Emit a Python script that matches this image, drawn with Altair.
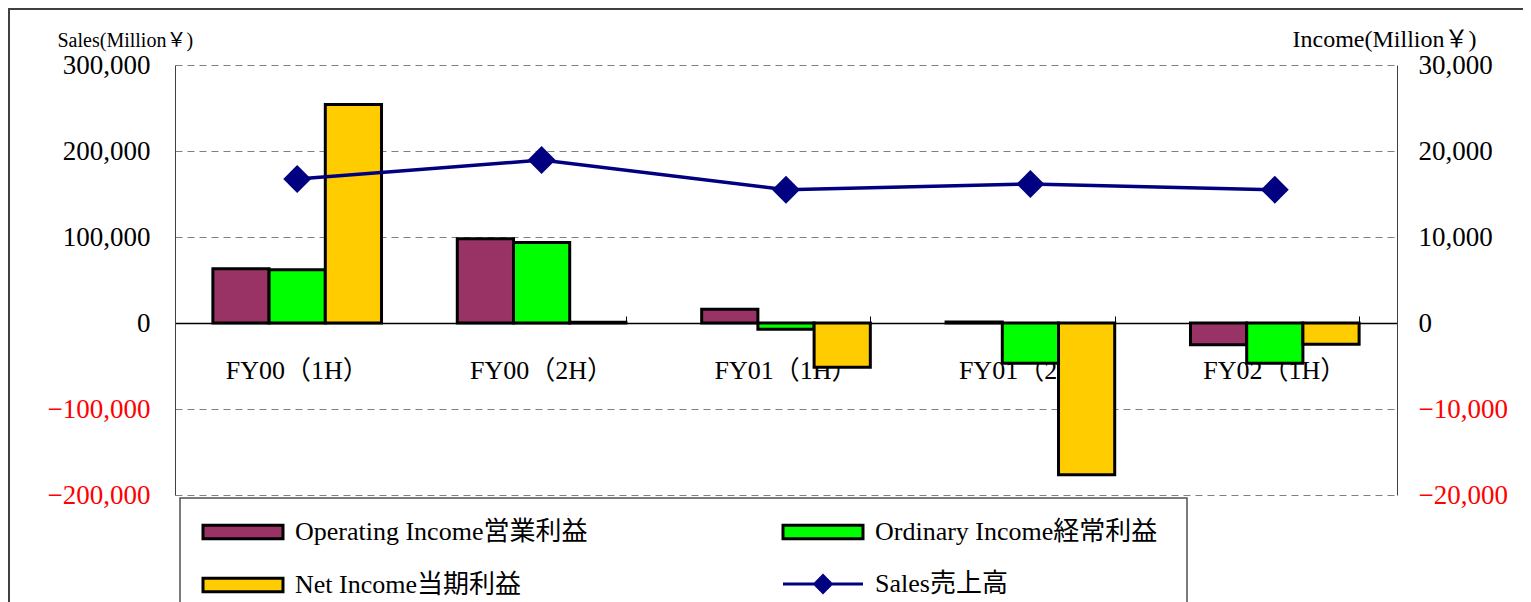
import altair as alt
import pandas as pd

# ---- data ----
periods = ["FY00（1H）", "FY00（2H）", "FY01（1H）", "FY01（2H）", "FY02（1H）"]
operating_income = [6300, 9800, 1600, 120, -2540]
ordinary_income = [6200, 9360, -720, -4680, -4680]
net_income = [25400, 80, -5140, -17650, -2480]
sales = [167400, 189500, 155000, 161600, 155000]

series_names = ["Operating Income営業利益", "Ordinary Income経常利益", "Net Income当期利益"]
series_colors = ["#993366", "#00FF00", "#FFCC00"]
sales_name = "Sales売上高"
sales_color = "#000080"

income_ticks = [-20000, -10000, 0, 10000, 20000, 30000]
sales_ticks = [-200000, -100000, 0, 100000, 200000, 300000]

# ---- tables ----
rows = []
for name, vals in zip(series_names, [operating_income, ordinary_income, net_income]):
    for p, v in zip(periods, vals):
        rows.append({"period": p, "series": name, "value": v})
bars_df = pd.DataFrame(rows)
sales_df = pd.DataFrame({"period": periods, "sales": sales, "name": [sales_name] * len(periods)})

W, H = 1222, 430
SERIF = "Liberation Serif, Noto Sans CJK JP"
label_color = {"condition": {"test": "datum.value < 0", "value": "#FF0000"}, "value": "#000000"}

x_scale = alt.Scale(paddingInner=0.31, paddingOuter=0.155)

# legend swatch paths (scaled by sqrt(symbolSize) / 2)
SWATCH = "M-3,-0.51L3,-0.51L3,0.51L-3,0.51Z"
LINE_DIAMOND = "M-3,0L3,0M-0.62,0L0,-0.62L0.62,0L0,0.62Z"
SYM_SIZE = 711

bars = alt.Chart(bars_df).mark_bar(stroke="black", strokeWidth=3, strokeJoin="miter").encode(
    x=alt.X("period:N", sort=periods, scale=x_scale,
            axis=alt.Axis(title=None, orient="bottom", offset=-172, labelAngle=0,
                          labelFont=SERIF, labelFontSize=26, labelColor="black",
                          labelPadding=34, ticks=False, domainColor="black", domainWidth=1.5)),
    xOffset=alt.XOffset("series:N", sort=series_names,
                        scale=alt.Scale(paddingInner=0, paddingOuter=0)),
    y=alt.Y("value:Q", scale=alt.Scale(domain=[-20000, 30000], nice=False, zero=True),
            axis=alt.Axis(orient="right", values=income_ticks, format=",d", grid=False,
                          ticks=False, labelPadding=21, labelFont=SERIF, labelFontSize=27,
                          labelColor=label_color, domainColor="#404040",
                          title="Income(Million￥)", titleAngle=0, titleAlign="left",
                          titleBaseline="alphabetic", titleX=-105, titleY=-19,
                          titleFont=SERIF, titleFontSize=24, titleFontWeight="normal",
                          titleColor="black")),
    fill=alt.Fill("series:N", sort=series_names,
                  scale=alt.Scale(domain=series_names, range=series_colors),
                  legend=alt.Legend(title=None, orient="none", legendX=53, legendY=452,
                                    direction="horizontal",
                                    columns=2, columnPadding=189, rowPadding=25, padding=0,
                                    symbolType=SWATCH,
                                    symbolSize=SYM_SIZE, symbolStrokeColor="black",
                                    symbolStrokeWidth=3, symbolOpacity=1,
                                    labelFont=SERIF, labelFontSize=26, labelColor="black",
                                    labelOffset=37, labelLimit=600)),
)

sales_line = alt.Chart(sales_df).mark_line(color=sales_color, strokeWidth=3.5).encode(
    x=alt.X("period:N", sort=periods, scale=x_scale,
            axis=alt.Axis(title=None, orient="top", offset=-258, labels=False, domain=False,
                          ticks=True, tickBand="extent", tickSize=7, tickColor="black",
                          tickWidth=1)),
    y=alt.Y("sales:Q", scale=alt.Scale(domain=[-200000, 300000], nice=False, zero=True),
            axis=alt.Axis(orient="left", values=sales_ticks, format=",d", grid=True,
                          gridDash=[7, 5], gridColor="#808080", gridWidth=1,
                          ticks=False, labelPadding=25, labelFont=SERIF, labelFontSize=27,
                          labelColor=label_color, domainColor="#404040",
                          title="Sales(Million￥)", titleAngle=0, titleAlign="left",
                          titleBaseline="alphabetic", titleX=-118, titleY=-19,
                          titleFont=SERIF, titleFontSize=20, titleFontWeight="normal",
                          titleColor="black")),
)

sales_points = alt.Chart(sales_df).mark_point(shape="diamond", filled=True, size=780, opacity=1).encode(
    x=alt.X("period:N", sort=periods, scale=x_scale),
    y=alt.Y("sales:Q", scale=alt.Scale(domain=[-200000, 300000], nice=False, zero=True)),
    fill=alt.Fill("name:N", scale=alt.Scale(domain=[sales_name], range=[sales_color]),
                  legend=alt.Legend(title=None, orient="none", legendX=633, legendY=504,
                                    padding=0,
                                    symbolType=LINE_DIAMOND,
                                    symbolSize=SYM_SIZE, symbolStrokeColor=sales_color,
                                    symbolStrokeWidth=3, symbolOpacity=1,
                                    labelFont=SERIF, labelFontSize=26, labelColor="black",
                                    labelOffset=37, labelLimit=600)),
)

sales_layer = alt.layer(sales_line, sales_points)

frame_df = pd.DataFrame({"k": [0]})
frame_top = alt.Chart(frame_df).mark_rule(stroke="#404040", strokeWidth=2).encode(
    x=alt.value(-166), x2=alt.value(1400), y=alt.value(-56))
frame_left = alt.Chart(frame_df).mark_rule(stroke="#404040", strokeWidth=2).encode(
    x=alt.value(-166), y=alt.value(-57), y2=alt.value(600))
legend_box = alt.Chart(frame_df).mark_rect(fillOpacity=0, stroke="#505050", strokeWidth=1.5).encode(
    x=alt.value(5), x2=alt.value(1012), y=alt.value(433), y2=alt.value(700))

chart = alt.layer(frame_top, frame_left, legend_box, bars, sales_layer).resolve_scale(
    y="independent", fill="independent"
).resolve_axis(x="independent").properties(
    width=W, height=H,
    autosize=alt.AutoSizeParams(type="none"),
    padding={"left": 167, "top": 57, "right": 126, "bottom": 110},
).configure_view(strokeWidth=0)

chart.save("out.html", embed_options={"renderer": "svg", "actions": False})
